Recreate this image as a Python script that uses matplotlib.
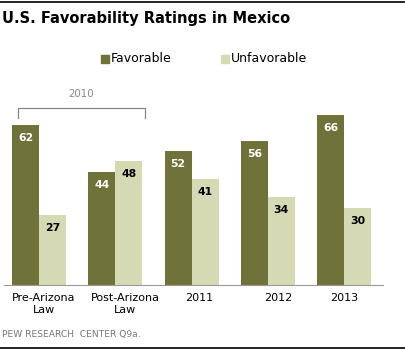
import matplotlib
matplotlib.use("Agg")
import matplotlib.pyplot as plt
from matplotlib.lines import Line2D
from matplotlib.patches import Rectangle
from matplotlib.transforms import ScaledTranslation

categories = ["Pre-Arizona\nLaw", "Post-Arizona\nLaw", "2011", "2012", "2013"]
favorable = [62, 44, 52, 56, 66]
unfavorable = [27, 48, 41, 34, 30]
series_names = ["Favorable", "Unfavorable"]

FAV = "#6f7339"
UNF = "#d5dab4"
W, H = 405, 350
fig = plt.figure(figsize=(W / 100, H / 100), dpi=100)

px_per_unit = 2.576
ax_left, ax_right = 4, 383
base_y, top_y = 285, 80
ax = fig.add_axes([ax_left / W, (H - base_y) / H, (ax_right - ax_left) / W, (base_y - top_y) / H])
ax.set_ylim(0, (base_y - top_y) / px_per_unit)
spacing = 76.25
ax.set_xlim((ax_left - 39) / spacing, (ax_right - 39) / spacing)
bw = 27 / spacing

x = list(range(len(categories)))
b1 = ax.bar([i - bw / 2 for i in x], favorable, width=bw, color=FAV)
b2 = ax.bar([i + bw / 2 for i in x], unfavorable, width=bw, color=UNF)
for rect, v in zip(b1, favorable):
    ax.text(rect.get_x() + rect.get_width() / 2, v - 5.0, str(v), ha="center", va="center",
            color="white", fontsize=7.8, fontweight="bold")
for rect, v in zip(b2, unfavorable):
    ax.text(rect.get_x() + rect.get_width() / 2, v - 5.0, str(v), ha="center", va="center",
            color="black", fontsize=7.8, fontweight="bold")

for s in ["top", "right", "left"]:
    ax.spines[s].set_visible(False)
ax.spines["bottom"].set_color("#999999")
ax.set_yticks([])
ax.set_xticks(x)
ax.set_xticklabels(categories, fontsize=8.0, linespacing=1.15)
ax.tick_params(axis="x", length=0, pad=6)
label_shift_px = [5, 10, 8, 10, 0]
for lab, dx in zip(ax.get_xticklabels(), label_shift_px):
    lab.set_transform(lab.get_transform() + ScaledTranslation(dx / 100, 0, fig.dpi_scale_trans))

# 2010 bracket
bx0, bx1 = (18 - 39) / spacing, (145 - 39) / spacing
by_top = (base_y - 108) / px_per_unit
by_bot = (base_y - 118) / px_per_unit
ax.plot([bx0, bx0, bx1, bx1], [by_bot, by_top, by_top, by_bot], color="#888888", lw=0.9,
        clip_on=False)
ax.text((bx0 + bx1) / 2, (base_y - 94) / px_per_unit, "2010", ha="center", va="center",
        color="#888888", fontsize=7.4, clip_on=False)

# Title
fig.text(2 / W, 1 - 18 / H, "U.S. Favorability Ratings in Mexico", ha="left", va="center",
         fontsize=10.5, fontweight="bold", color="black")

# Legend
ly = 1 - 59 / H
for sx, col, name in [(101, FAV, series_names[0]), (221, UNF, series_names[1])]:
    fig.patches.append(Rectangle((sx / W, ly - 4 / H), 8 / W, 8 / H, transform=fig.transFigure,
                                 color=col))
    fig.text((sx + 10) / W, ly, name, ha="left", va="center", fontsize=9, color="black")

# Source
fig.text(2 / W, 1 - 335 / H, "PEW RESEARCH  CENTER Q9a.", ha="left", va="center",
         fontsize=6.6, color="#777777")

# Rules
fig.add_artist(Line2D([0, 1], [1 - 1.5 / H, 1 - 1.5 / H], color="black", lw=1.2,
                      transform=fig.transFigure))
fig.add_artist(Line2D([0, 1], [1 - 348 / H, 1 - 348 / H], color="black", lw=1.2,
                      transform=fig.transFigure))

fig.savefig("out.png", dpi=100)
